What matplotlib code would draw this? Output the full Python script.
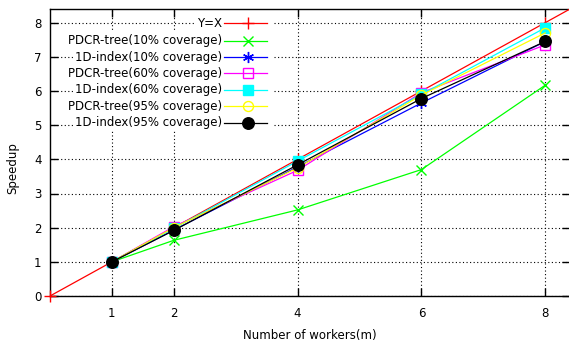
import matplotlib
matplotlib.use("Agg")
import matplotlib.pyplot as plt
from matplotlib.patches import Rectangle

workers = [1, 2, 4, 6, 8]
ideal_x = [0, 1, 2, 4, 6, 8]

pdcr_10 = [1.0, 1.63, 2.52, 3.70, 6.17]
idx_10 = [1.0, 1.93, 3.78, 5.65, 7.45]
pdcr_60 = [1.0, 2.03, 3.68, 5.95, 7.35]
idx_60 = [1.0, 1.98, 3.95, 5.90, 7.85]
pdcr_95 = [1.0, 2.00, 3.75, 5.88, 7.70]
idx_95 = [1.0, 1.92, 3.84, 5.78, 7.45]

labels = ["Y=X",
          "PDCR-tree(10% coverage)", "1D-index(10% coverage)",
          "PDCR-tree(60% coverage)", "1D-index(60% coverage)",
          "PDCR-tree(95% coverage)", "1D-index(95% coverage)"]

W, H = 569, 349
fig = plt.figure(figsize=(W / 100, H / 100), dpi=100)
plt.rcParams['font.family'] = ['DejaVu Sans']
FS = 8.5

ax_l, ax_r, ax_t, ax_b = 50, 570, 9, 296
ax = fig.add_axes([ax_l / W, 1 - ax_b / H, (ax_r - ax_l) / W, (ax_b - ax_t) / H])
ax.set_xlim(0, 8.4)
ax.set_ylim(0, 8.4)

lw = 0.9
styles = [
    dict(color="#ff0000", marker="+", ms=8.5, mfc="none", mew=1.0),
    dict(color="#00ff00", marker="x", ms=7, mfc="none", mew=1.0),
    dict(color="#0000ff", marker=(6, 2, 0), ms=8, mfc="none", mew=1.0),
    dict(color="#ff00ff", marker="s", ms=7.2, mfc="none", mew=1.0),
    dict(color="#00ffff", marker="s", ms=7, mfc="#00ffff", mew=1.0),
    dict(color="#ffff00", marker="o", ms=7.2, mfc="none", mew=1.0),
    dict(color="#000000", marker="o", ms=8.3, mfc="#000000", mew=1.0),
]

# ideal speedup line spanning the whole plot
ax.axline((0, 0), slope=1, color=styles[0]["color"], lw=lw, zorder=3)
ax.plot(ideal_x, ideal_x, linestyle="none", clip_on=False, zorder=3, **styles[0])

series = [pdcr_10, idx_10, pdcr_60, idx_60, pdcr_95, idx_95]
for i, ys in enumerate(series):
    ax.plot(workers, ys, lw=lw, zorder=4 + i, clip_on=False, **styles[i + 1])

ax.set_xticks(workers)
ax.set_yticks(range(0, 9))
ax.tick_params(direction="in", length=6, width=1, top=True, right=True,
               labelsize=FS, pad=6, colors="black")
ax.tick_params(axis="x", pad=8)
ax.grid(True, color="black", linestyle=(0, (1, 2.2)), lw=0.8)
ax.set_axisbelow(True)
for s in ax.spines.values():
    s.set_linewidth(1.0)
ax.spines["right"].set_visible(False)

fig.text(310 / W, 1 - 336 / H, "Number of workers(m)", ha="center", va="center", fontsize=FS)
fig.text(13 / W, 1 - 168 / H, "Speedup", ha="center", va="center", rotation=90, fontsize=FS)

# key: right-aligned labels with sample line and marker
row_y = [23.3, 40.5, 57.3, 73.0, 89.5, 106.3, 122.8]
text_right = 222
for i, (lab, yy) in enumerate(zip(labels, row_y)):
    yf = 1 - yy / H
    fig.text(text_right / W, yf, lab, ha="right", va="center", fontsize=FS, zorder=20,
             bbox=dict(facecolor="white", edgecolor="none", pad=1.5))
    fig.patches.append(Rectangle((223 / W, yf - 7 / H), 50 / W, 14 / H,
                                 transform=fig.transFigure, facecolor="white",
                                 edgecolor="none", zorder=19))
    st = styles[i]
    fig.add_artist(plt.Line2D([224 / W, 267 / W], [yf, yf], transform=fig.transFigure,
                              color=st["color"], lw=lw, zorder=21))
    fig.add_artist(plt.Line2D([248 / W], [yf], transform=fig.transFigure, linestyle="none",
                              zorder=22, **st))

fig.savefig("out.png", dpi=100)
